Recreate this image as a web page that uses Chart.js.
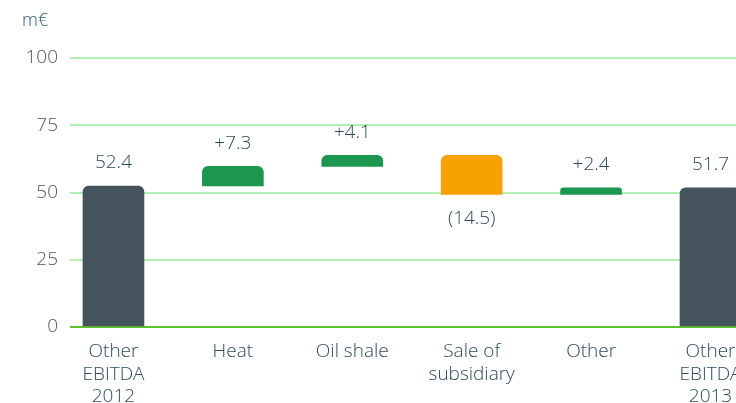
<!DOCTYPE html>
<html>
<head>
<meta charset="utf-8">
<title>EBITDA bridge</title>
<script src="https://cdn.jsdelivr.net/npm/chart.js@4.4.1/dist/chart.umd.min.js"></script>
<style>
  html, body { margin: 0; padding: 0; background: #fff; overflow: hidden; }
  #wrap { width: 820px; height: 403px; }
</style>
</head>
<body>
<div id="wrap"><canvas id="bridge"></canvas></div>
<script>
// Categories along the x axis (multi-line labels are arrays)
const categories = [
    ['Other', 'EBITDA', '2012'],
    'Heat',
    'Oil shale',
    ['Sale of', 'subsidiary'],
    'Other',
    ['Other', 'EBITDA', '2013']
];
// Totals at both ends, changes in between
const amounts = [52.4, 7.3, 4.1, -14.5, 2.4, 51.7];
const isTotal = [true, false, false, false, false, true];
const yTicks = [0, 25, 50, 75, 100];

const colTotal = '#44535c';
const colUp = '#1d964f';
const colDown = '#f7a102';
const textCol = '#2e4b5a';
const fontFamily = '"Open Sans", sans-serif';

// Floating bars: each change starts where the previous bar ended
let running = 0;
const ranges = amounts.map(function (v, i) {
    if (isTotal[i]) {
        running = v;
        return { x: i, y: [0, v] };
    }
    const from = running;
    running = +(running + v).toFixed(1);
    return { x: i, y: [from, running] };
});

const labelText = amounts.map(function (v, i) {
    if (isTotal[i]) return v.toFixed(1);
    return v < 0 ? '(' + Math.abs(v).toFixed(1) + ')' : '+' + v.toFixed(1);
});

// Value labels above rising bars, below falling ones
const valueLabels = {
    id: 'valueLabels',
    afterDatasetsDraw(chart) {
        const ctx = chart.ctx;
        const meta = chart.getDatasetMeta(0);
        ctx.save();
        ctx.font = '300 19px ' + fontFamily;
        ctx.fillStyle = textCol;
        ctx.textAlign = 'center';
        ctx.textBaseline = 'middle';
        meta.data.forEach(function (bar, i) {
            const top = Math.min(bar.y, bar.base);
            const bottom = Math.max(bar.y, bar.base);
            const y = amounts[i] < 0 ? bottom + 24 : top - 23;
            ctx.fillText(labelText[i], bar.x, y);
        });
        ctx.restore();
    }
};

const ctx = document.getElementById('bridge').getContext('2d');
const chart = new Chart(ctx, {
    type: 'bar',
    data: {
        datasets: [{
            data: ranges,
            backgroundColor: amounts.map(function (v, i) {
                return isTotal[i] ? colTotal : (v < 0 ? colDown : colUp);
            }),
            borderSkipped: 'start',
            borderRadius: 6,
            barThickness: 61
        }]
    },
    options: {
        responsive: true,
        maintainAspectRatio: false,
        animation: false,
        layout: { padding: { left: 22, right: 0, top: 0, bottom: 0 } },
        plugins: {
            legend: { display: false },
            tooltip: { enabled: false },
            title: {
                display: true,
                text: 'm€',
                align: 'start',
                color: '#2f5a6b',
                font: { family: fontFamily, size: 18, weight: 300 },
                padding: { top: 10, bottom: 26.4 }
            }
        },
        scales: {
            x: {
                type: 'linear',
                offset: false,
                min: -0.364,
                max: 5.917,
                grid: { display: false, drawTicks: false },
                border: { display: false },
                afterFit: function (scale) { scale.height = 76; },
                ticks: {
                    stepSize: 1,
                    includeBounds: false,
                    autoSkip: false,
                    maxRotation: 0,
                    padding: 13,
                    color: textCol,
                    font: { family: fontFamily, size: 19, weight: 300, lineHeight: 1.2 },
                    callback: function (value) {
                        return Number.isInteger(value) ? categories[value] : '';
                    }
                }
            },
            y: {
                min: 0,
                max: 100,
                afterFit: function (scale) { scale.width = 48; },
                afterBuildTicks: function (scale) {
                    scale.ticks = yTicks.map(function (v) { return { value: v }; });
                },
                border: { display: false },
                grid: {
                    drawTicks: false,
                    color: function (c) { return c.tick && c.tick.value === 0 ? '#5cc12c' : '#b2efb2'; },
                    lineWidth: 2
                },
                ticks: {
                    padding: 12,
                    color: '#555',
                    font: { family: fontFamily, size: 19, weight: 300 }
                }
            }
        }
    },
    plugins: [valueLabels]
});
</script>
</body>
</html>
